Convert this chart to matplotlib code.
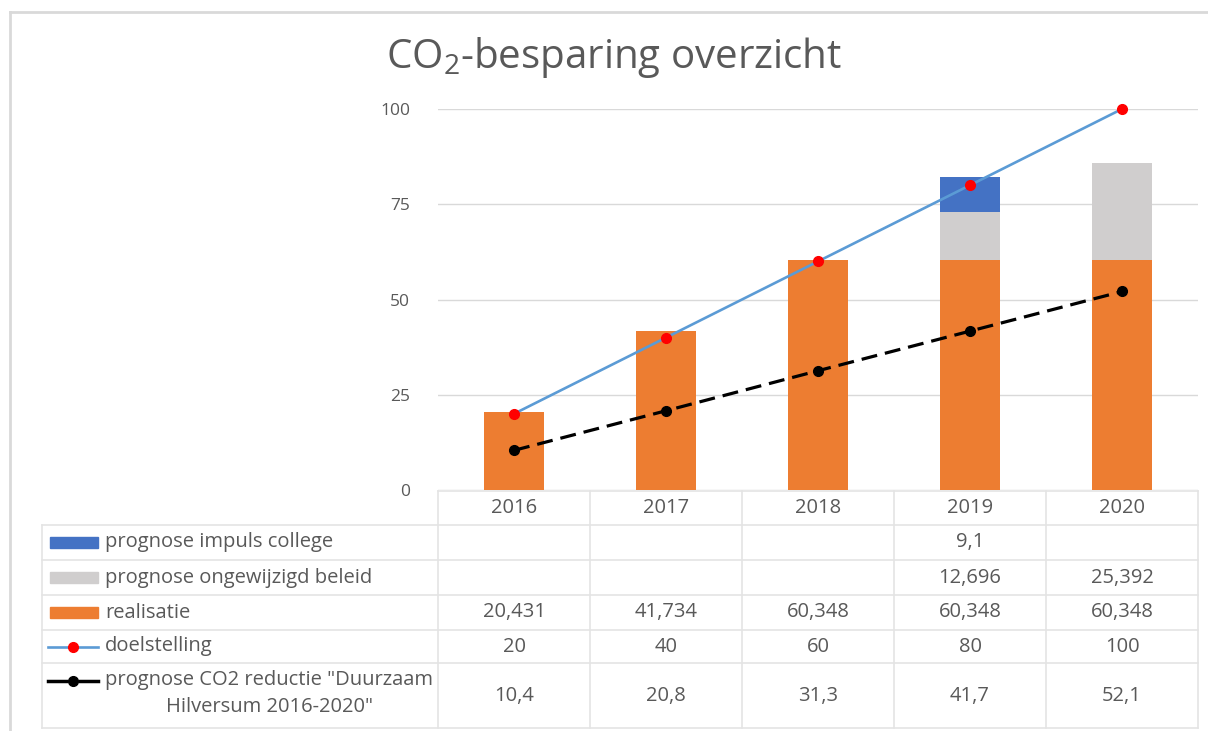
import numpy as np
import matplotlib
matplotlib.use("Agg")
import matplotlib.pyplot as plt
from matplotlib.lines import Line2D

plt.rcParams['font.family'] = ['Open Sans', 'DejaVu Sans']
plt.rcParams['mathtext.fontset'] = 'custom'
plt.rcParams['mathtext.rm'] = 'Open Sans'
plt.rcParams['mathtext.it'] = 'Open Sans'

# Data
years = ["2016", "2017", "2018", "2019", "2020"]
realisatie = [20.431, 41.734, 60.348, 60.348, 60.348]
ongewijzigd = [np.nan, np.nan, np.nan, 12.696, 25.392]
impuls = [np.nan, np.nan, np.nan, 9.1, np.nan]
doelstelling = [20, 40, 60, 80, 100]
prognose_co2 = [10.4, 20.8, 31.3, 41.7, 52.1]

series_labels = ["prognose impuls college", "prognose ongewijzigd beleid", "realisatie",
                 "doelstelling", "prognose CO2 reductie \"Duurzaam", "Hilversum 2016-2020\""]

# Colours
C_ORANGE = "#ED7D31"
C_GREY = "#D0CECE"
C_BLUE = "#4472C4"
C_LINE = "#5B9BD5"
C_TEXT = "#595959"
C_GRID = "#D9D9D9"

W, H = 1208, 731
fig = plt.figure(figsize=(W / 100, H / 100), dpi=100)

# pixel-coordinate overlay for the data table and border
ov = fig.add_axes([0, 0, 1, 1])
ov.set_xlim(0, W)
ov.set_ylim(H, 0)
ov.axis("off")

# main chart axes
x0, x1, y0, y1 = 438, 1198, 490, 109
ax = fig.add_axes([x0 / W, 1 - y0 / H, (x1 - x0) / W, (y0 - y1) / H])
x = np.arange(len(years))
bw = 0.4

real = np.array(realisatie)
ong = np.nan_to_num(np.array(ongewijzigd))
imp = np.nan_to_num(np.array(impuls))
ax.bar(x, real, bw, color=C_ORANGE, zorder=2)
ax.bar(x, ong, bw, bottom=real, color=C_GREY, zorder=2)
ax.bar(x, imp, bw, bottom=real + ong, color=C_BLUE, zorder=2)
ax.plot(x, doelstelling, color=C_LINE, lw=1.9, marker="o", ms=7,
        mfc="red", mec="red", zorder=3, clip_on=False)
ax.plot(x, prognose_co2, color="black", lw=2.3, ls=(0, (5, 2.5)), marker="o",
        ms=7, mfc="black", mec="black", zorder=3)

ax.set_xlim(-0.5, len(years) - 0.5)
ax.set_ylim(0, 100)
ax.set_yticks([0, 25, 50, 75, 100])
ax.tick_params(axis="y", length=0, pad=20, labelsize=12.5, labelcolor=C_TEXT)
ax.set_xticks([])
for s in ax.spines.values():
    s.set_visible(False)
ax.grid(axis="y", color=C_GRID, lw=1, zorder=0)
ax.set_axisbelow(True)

# title
fig.text(614 / W, 1 - 58 / H, "CO$_2$-besparing overzicht", ha="center", va="center",
         fontsize=29, color=C_TEXT)

# figure border (left/top)
ov.plot([10, 10], [12, H], color=C_GRID, lw=2)
ov.plot([10, W], [12, 12], color=C_GRID, lw=2)

# data table
cols = [438, 590, 742, 894, 1046, 1198]
rows = [491, 525, 560, 595, 630, 663, 728]
tl = dict(color="#E4E4E4", lw=1.2)
ov.plot([cols[0], cols[-1]], [rows[0], rows[0]], **tl)
for r in rows[1:]:
    ov.plot([42, cols[-1]], [r, r], **tl)
for c in cols:
    ov.plot([c, c], [rows[0], rows[-1]], **tl)
ov.plot([42, 42], [rows[1], rows[-1]], **tl)

tfs = 14.5
for i, yr in enumerate(years):
    cx = (cols[i] + cols[i + 1]) / 2
    ov.text(cx, (rows[0] + rows[1]) / 2, yr, ha="center", va="center",
            fontsize=tfs, color=C_TEXT)


def fmt(v):
    if np.isnan(v):
        return ""
    return f"{v:g}".replace(".", ",")


table_vals = [impuls, ongewijzigd, realisatie, doelstelling, prognose_co2]
for r, vals in enumerate(table_vals):
    cy = (rows[r + 1] + rows[r + 2]) / 2
    for i, v in enumerate(vals):
        cx = (cols[i] + cols[i + 1]) / 2
        ov.text(cx, cy, fmt(float(v)), ha="center", va="center", fontsize=tfs, color=C_TEXT)

# legend keys and labels in first column
for r in range(5):
    cy = (rows[r + 1] + rows[r + 2]) / 2
    if r < 3:
        col = [C_BLUE, C_GREY, C_ORANGE][r]
        ov.add_patch(plt.Rectangle((50, cy - 6), 48, 11, color=col))
        ov.text(105, cy, series_labels[r], ha="left", va="center", fontsize=tfs, color=C_TEXT)
    elif r == 3:
        ov.add_line(Line2D([48, 98], [cy, cy], color=C_LINE, lw=1.9))
        ov.plot([73], [cy], "o", color="red", ms=7)
        ov.text(105, cy, series_labels[r], ha="left", va="center", fontsize=tfs, color=C_TEXT)
    else:
        ky = 681
        ov.add_line(Line2D([48, 66], [ky, ky], color="black", lw=2.5))
        ov.add_line(Line2D([80, 98], [ky, ky], color="black", lw=2.5))
        ov.plot([73], [ky], "o", color="black", ms=7)
        ov.text(105, ky - 1, series_labels[4], ha="left", va="center", fontsize=tfs, color=C_TEXT)
        ov.text(270, 707, series_labels[5], ha="center", va="center", fontsize=tfs, color=C_TEXT)

fig.savefig("out.png", dpi=100)
